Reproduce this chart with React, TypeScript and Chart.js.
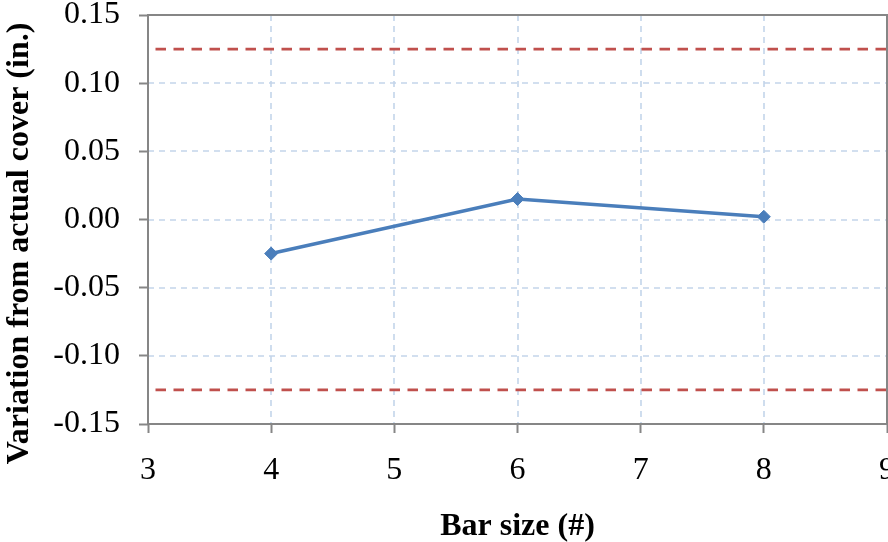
import React, { useEffect, useRef } from 'react';
import { Chart, registerables } from 'chart.js';

Chart.register(...registerables);

const barSizes = [4, 6, 8];
const variation = [-0.025, 0.015, 0.002];
const toleranceX = [3, 9];
const upperTolerance = [0.125, 0.125];
const lowerTolerance = [-0.125, -0.125];
const xTickValues = [3, 4, 5, 6, 7, 8, 9];
const yTickValues = [-0.15, -0.1, -0.05, 0, 0.05, 0.1, 0.15];
const xTitle = 'Bar size (#)';
const yTitle = 'Variation from actual cover (in.)';

const FONT = "'Liberation Serif', 'Times New Roman', serif";
const AXIS_GRAY = '#868686';
const GRID_BLUE = '#c3d5ea';

const gridAndFramePlugin = {
  id: 'gridAndFrame',
  beforeDatasetsDraw(chart: any) {
    const { ctx, chartArea, scales } = chart;
    const { left, right, top, bottom } = chartArea;
    ctx.save();
    ctx.strokeStyle = GRID_BLUE;
    ctx.lineWidth = 1.6;
    ctx.setLineDash([6, 5]);
    xTickValues.slice(1, -1).forEach((v) => {
      const x = Math.round(scales.x.getPixelForValue(v));
      ctx.beginPath();
      ctx.moveTo(x, top);
      ctx.lineTo(x, bottom);
      ctx.stroke();
    });
    yTickValues.slice(1, -1).forEach((v) => {
      const y = Math.round(scales.y.getPixelForValue(v));
      ctx.beginPath();
      ctx.moveTo(left, y);
      ctx.lineTo(right, y);
      ctx.stroke();
    });
    ctx.setLineDash([]);
    ctx.strokeStyle = AXIS_GRAY;
    ctx.lineWidth = 2;
    ctx.strokeRect(left, top, right - left, bottom - top);
    ctx.restore();
  },
  afterDraw(chart: any) {
    const { ctx } = chart;
    ctx.save();
    ctx.fillStyle = '#000';
    ctx.font = `bold 32px ${FONT}`;
    ctx.textAlign = 'center';
    ctx.textBaseline = 'alphabetic';
    ctx.translate(28, 243.5);
    ctx.rotate(-Math.PI / 2);
    ctx.fillText(yTitle, 0, 0);
    ctx.restore();
  },
};

export default function App() {
  const ref = useRef<HTMLCanvasElement | null>(null);

  useEffect(() => {
    document.body.style.margin = '0';
    if (!ref.current) return;
    const tickFont = { family: FONT, size: 32, lineHeight: 1 };
    const chart = new Chart(ref.current, {
      type: 'line',
      data: {
        datasets: [
          {
            data: barSizes.map((x, i) => ({ x, y: variation[i] })),
            borderColor: '#4a7ebb',
            backgroundColor: '#4a7ebb',
            borderWidth: 3.6,
            pointStyle: 'rectRot',
            pointRadius: 6.5,
            pointBorderWidth: 1,
            fill: false,
            tension: 0,
          },
          {
            data: toleranceX.map((x, i) => ({ x, y: upperTolerance[i] })),
            borderColor: '#c0504d',
            borderWidth: 2.8,
            borderDash: [10.5, 7.5],
            borderDashOffset: 10.5,
            pointRadius: 0,
            fill: false,
          },
          {
            data: toleranceX.map((x, i) => ({ x, y: lowerTolerance[i] })),
            borderColor: '#c0504d',
            borderWidth: 2.8,
            borderDash: [10.5, 7.5],
            borderDashOffset: 10.5,
            pointRadius: 0,
            fill: false,
          },
        ],
      },
      options: {
        responsive: false,
        animation: false,
        devicePixelRatio: 1,
        layout: { padding: { top: 15, right: 33, left: 0, bottom: 0 } },
        plugins: { legend: { display: false }, tooltip: { enabled: false } },
        scales: {
          x: {
            type: 'linear',
            min: 3,
            max: 9,
            afterBuildTicks: (s: any) => {
              s.ticks = xTickValues.map((value) => ({ value }));
            },
            afterFit: (s: any) => {
              s.height = 118;
              s.paddingLeft = 0;
              s.paddingRight = 0;
            },
            grid: {
              display: true,
              drawOnChartArea: false,
              drawTicks: true,
              tickLength: 9,
              tickColor: AXIS_GRAY,
              tickWidth: 2,
            },
            border: { display: false },
            ticks: {
              color: '#000',
              font: tickFont,
              padding: 22,
              maxRotation: 0,
              autoSkip: false,
              callback: (v: any) => String(v),
            },
            title: {
              display: true,
              text: xTitle,
              color: '#000',
              font: { family: FONT, size: 32, weight: 'bold', lineHeight: 1 },
              padding: { top: 0, bottom: -1 },
            },
          },
          y: {
            type: 'linear',
            min: -0.15,
            max: 0.15,
            afterBuildTicks: (s: any) => {
              s.ticks = yTickValues.map((value) => ({ value }));
            },
            afterFit: (s: any) => {
              s.width = 148;
              s.paddingTop = 0;
              s.paddingBottom = 0;
            },
            grid: {
              display: true,
              drawOnChartArea: false,
              drawTicks: true,
              tickLength: 9,
              tickColor: AXIS_GRAY,
              tickWidth: 2,
            },
            border: { display: false },
            ticks: {
              color: '#000',
              font: tickFont,
              padding: 19,
              callback: (v: any) => (Math.abs(Number(v)) < 1e-9 ? '0.00' : Number(v).toFixed(2)),
            },
          },
        },
      },
      plugins: [gridAndFramePlugin],
    } as any);
    return () => chart.destroy();
  }, []);

  return (
    <div style={{ width: 888, height: 542, overflow: 'hidden', position: 'relative', background: '#fff' }}>
      <canvas
        ref={ref}
        width={920}
        height={542}
        style={{ position: 'absolute', left: 0, top: 0, width: 920, height: 542 }}
      />
    </div>
  );
}
